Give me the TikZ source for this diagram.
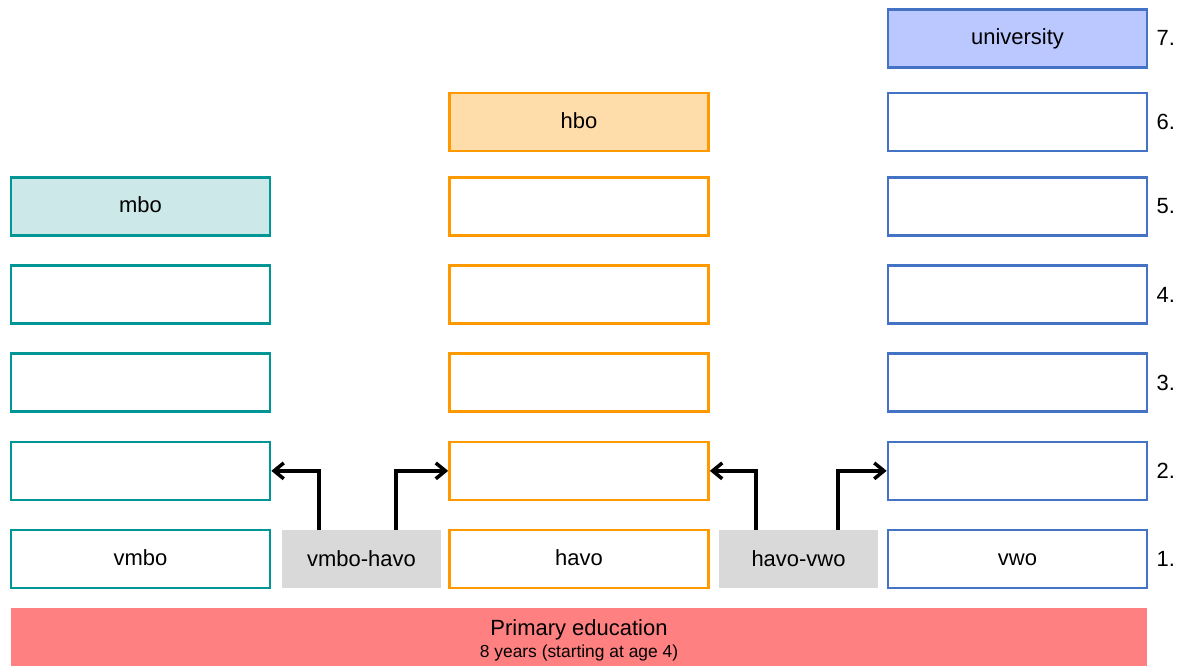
\documentclass[tikz,border=0pt]{standalone}
\usepackage{fontspec}
\setmainfont{Liberation Sans}
\usetikzlibrary{arrows.meta,positioning}

\definecolor{tealline}{RGB}{0,150,150}
\definecolor{tealfill}{RGB}{204,232,232}
\definecolor{orangeline}{RGB}{255,153,0}
\definecolor{orangefill}{RGB}{255,221,170}
\definecolor{blueline}{RGB}{68,114,196}
\definecolor{bluefill}{RGB}{187,200,255}
\definecolor{bridgegray}{RGB}{217,217,217}
\definecolor{primaryred}{RGB}{255,128,128}

\begin{document}
\begin{tikzpicture}[
        >={Straight Barb[length=5.5pt,width=9pt]},
        node distance=0.55cm,
        every node/.style={font=\fontsize{12.5}{14}\selectfont, align=center},
        year/.style={draw, line width=1.5pt, minimum width=5.18cm, minimum height=1.16cm, inner sep=0pt,
            text height=0.8em, text depth=0.1em},
        vmbo/.style={year, draw=tealline},
        havo/.style={year, draw=orangeline},
        vwo/.style={year, draw=blueline},
        bridge/.style={fill=bridgegray, minimum width=3.18cm, minimum height=1.16cm, inner sep=0pt},
        step arrow/.style={->, line width=2pt}
    ]
        \useasboundingbox (0,0) rectangle (23.64,-13.32);

        % first year of each track
        \node[vmbo] (m1) at (2.81,-11.18) {vmbo};
        \node[havo] (h1) at (11.58,-11.18) {havo};
        \node[vwo] (v1) at (20.35,-11.18) {vwo};

        % vmbo and mbo
        \node[vmbo, above=of m1] (m2) {};
        \node[vmbo, above=of m2] (m3) {};
        \node[vmbo, above=of m3] (m4) {};
        \node[vmbo, above=of m4, fill=tealfill] (m5) {mbo};

        % havo and hbo
        \node[havo, above=of h1] (h2) {};
        \node[havo, above=of h2] (h3) {};
        \node[havo, above=of h3] (h4) {};
        \node[havo, above=of h4] (h5) {};
        \node[havo, above=0.475cm of h5, fill=orangefill] (h6) {hbo};

        % vwo and university
        \node[vwo, above=of v1] (v2) {};
        \node[vwo, above=of v2] (v3) {};
        \node[vwo, above=of v3] (v4) {};
        \node[vwo, above=of v4] (v5) {};
        \node[vwo, above=0.475cm of v5] (v6) {};
        \node[vwo, above=0.46cm of v6, fill=bluefill] (v7) {university};

        % year numbers
        \node[right=0.04cm of v1] (n1) {1.};
        \node[right=0.04cm of v2] (n2) {2.};
        \node[right=0.04cm of v3] (n3) {3.};
        \node[right=0.04cm of v4] (n4) {4.};
        \node[right=0.04cm of v5] (n5) {5.};
        \node[right=0.04cm of v6] (n6) {6.};
        \node[right=0.04cm of v7] (n7) {7.};

        % bridge classes
        \node[bridge] (mh) at (7.23,-11.18) {vmbo-havo};
        \node[bridge] (hv) at (15.97,-11.18) {havo-vwo};

        \draw[step arrow] ([xshift=-0.85cm]mh.north) |- (m2.east);
        \draw[step arrow] ([xshift=0.69cm]mh.north) |- (h2.west);
        \draw[step arrow] ([xshift=-0.85cm]hv.north) |- (h2.east);
        \draw[step arrow] ([xshift=0.79cm]hv.north) |- (v2.west);

        % primary school, runs off the bottom of the page
        \node[fill=primaryred, minimum width=22.72cm, minimum height=1.28cm, inner sep=0pt] (pe) at (11.58,-12.80)
            {Primary education\\[-1.5pt]{\fontsize{9.9}{11}\selectfont 8 years (starting at age 4)}};
    \end{tikzpicture}
\end{document}
